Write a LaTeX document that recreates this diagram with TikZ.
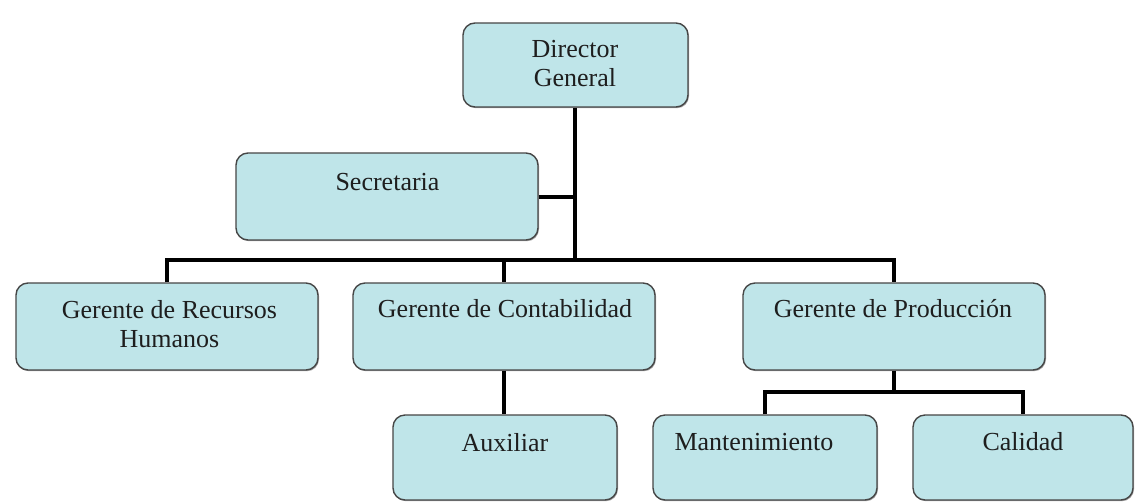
\documentclass[tikz,border=0pt]{standalone}
\usepackage{fontspec}
\setmainfont{Liberation Serif}
\usetikzlibrary{shadows}
\definecolor{boxfill}{RGB}{191,229,233}
\definecolor{boxline}{RGB}{70,70,70}
\definecolor{txt}{RGB}{30,30,30}
\begin{document}
\begin{tikzpicture}[x=1pt,y=-1pt,
  orgbox/.style={draw=boxline, line width=1.4pt, fill=boxfill, rounded corners=12pt,
    inner sep=0pt, minimum width=#1, drop shadow={shadow xshift=1pt, shadow yshift=-1.2pt, opacity=0.35, fill=black}},
  orgbox/.default=302pt,
  lbl/.style={anchor=base, inner sep=0pt, text=txt, font=\fontsize{26}{30}\selectfont},
  conn/.style={line width=4pt, line join=miter}]
\useasboundingbox (0,0) rectangle (1142,501);
\fill[white] (0,0) rectangle (1142,501);
% boxes
\node[orgbox=225pt, minimum height=84pt] (dir) at (575.5,65) {};
\node[orgbox, minimum height=87pt] (sec) at (387,196.5) {};
\node[orgbox, minimum height=87pt] (rrhh) at (167,326.5) {};
\node[orgbox, minimum height=87pt] (cont) at (504,326.5) {};
\node[orgbox, minimum height=87pt] (prod) at (894,326.5) {};
\node[orgbox=224pt, minimum height=85pt] (aux) at (505,457.5) {};
\node[orgbox=224pt, minimum height=85pt] (mant) at (765,457.5) {};
\node[orgbox=220pt, minimum height=85pt] (cal) at (1023,457.5) {};
% labels
\node[lbl] (tdir1) at (575,57) {Director};
\node[lbl] (tdir2) at (575,86) {General};
\node[lbl] (tsec) at (387.5,190) {Secretaria};
\node[lbl] (trrhh1) at (169.5,318) {Gerente de Recursos};
\node[lbl] (trrhh2) at (169.5,347) {Humanos};
\node[lbl] (tcont) at (505,317) {Gerente de Contabilidad};
\node[lbl] (tprod) at (893,317) {Gerente de Producción};
\node[lbl] (taux) at (505,451) {Auxiliar};
\node[lbl] (tmant) at (754,450) {Mantenimiento};
\node[lbl] (tcal) at (1023,450) {Calidad};
% connectors
\coordinate (bus) at (575,260);
\coordinate (sub) at (894,392);
\draw[conn] (dir.south -| bus) -- (bus);
\draw[conn] (sec.east) -- (sec.east -| bus);
\draw[conn] (rrhh.north) |- (bus) -| (prod.north);
\draw[conn] (cont.north) -- (cont.north |- bus);
\draw[conn] (cont.south) -- (cont.south |- aux.north);
\draw[conn] (prod.south) -- (sub);
\draw[conn] (mant.north) |- (sub) -| (cal.north);
\end{tikzpicture}
\end{document}
